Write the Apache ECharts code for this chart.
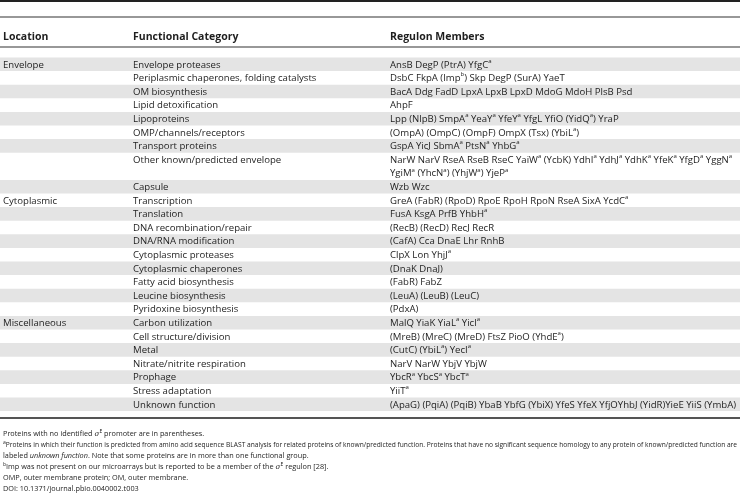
<!DOCTYPE html>
<html><head><meta charset="utf-8">
<script src="https://cdn.jsdelivr.net/npm/echarts@6/dist/echarts.min.js"></script>
<style>html,body{margin:0;padding:0;background:#fff}#c{width:740px;height:495px}</style>
</head><body><div id="c"></div>
<script>
// ---- data ----
const headers = ['Location', 'Functional Category', 'Regulon Members'];
const locations = ['Envelope','','','','','','','','','Cytoplasmic','','','','','','','','','Miscellaneous','','','','','',''];
const categories = [
  'Envelope proteases','Periplasmic chaperones, folding catalysts','OM biosynthesis','Lipid detoxification',
  'Lipoproteins','OMP/channels/receptors','Transport proteins','Other known/predicted envelope','Capsule',
  'Transcription','Translation','DNA recombination/repair','DNA/RNA modification','Cytoplasmic proteases',
  'Cytoplasmic chaperones','Fatty acid biosynthesis','Leucine biosynthesis','Pyridoxine biosynthesis',
  'Carbon utilization','Cell structure/division','Metal','Nitrate/nitrite respiration','Prophage',
  'Stress adaptation','Unknown function'
];
const members = [
  'AnsB DegP (PtrA) YfgC^a',
  'DsbC FkpA (Imp^b) Skp DegP (SurA) YaeT',
  'BacA Ddg FadD LpxA LpxB LpxD MdoG MdoH PlsB Psd',
  'AhpF',
  'Lpp (NlpB) SmpA^a YeaY^a YfeY^a YfgL YfiO (YidQ^a) YraP',
  '(OmpA) (OmpC) (OmpF) OmpX (Tsx) (YbiL^a)',
  'GspA YicJ SbmA^a PtsN^a YhbG^a',
  'NarW NarV RseA RseB RseC YaiW^a (YcbK) YdhI^a YdhJ^a YdhK^a YfeK^a YfgD^a YggN^a\nYgiM^a (YhcN^a) (YhjW^a) YjeP^a',
  'Wzb Wzc',
  'GreA (FabR) (RpoD) RpoE RpoH RpoN RseA SixA YcdC^a',
  'FusA KsgA PrfB YhbH^a',
  '(RecB) (RecD) RecJ RecR',
  '(CafA) Cca DnaE Lhr RnhB',
  'ClpX Lon YhjJ^a',
  '(DnaK DnaJ)',
  '(FabR) FabZ',
  '(LeuA) (LeuB) (LeuC)',
  '(PdxA)',
  'MalQ YiaK YiaL^a YicI^a',
  '(MreB) (MreC) (MreD) FtsZ PioO (YhdE^a)',
  '(CutC) (YbiL^a) YecI^a',
  'NarV NarW YbjV YbjW',
  'YbcR^a YbcS^a YbcT^a',
  'YiiT^a',
  '(ApaG) (PqiA) (PqiB) YbaB YbfG (YbiX) YfeS YfeX YfjOYhbJ (YidR)YieE YiiS (YmbA)'
];
const footnotes = [
  'Proteins with no identified {g|σ}{s|E} promoter are in parentheses.',
  '{s|a}Proteins in which their function is predicted from amino acid sequence BLAST analysis for related proteins of known/predicted function. Proteins that have no significant sequence homology to any protein of known/predicted function are',
  'labeled {i|unknown function}. Note that some proteins are in more than one functional group.',
  '{s|b}Imp was not present on our microarrays but is reported to be a member of the {g|σ}{s|E} regulon [28].',
  'OMP, outer membrane protein; OM, outer membrane.',
  'DOI: 10.1371/journal.pbio.0040002.t003'
];

// ---- layout ----
const W = 740, LINE = 13.6, TOP = 57.5;
const colX = [3, 133, 390];
const FONT = '"Open Sans", sans-serif';
const TXT = '#1e1e1e';
const footSizes = [7.3, 6.65, 7.3, 7.3, 7.3, 7.3];
const rowLines = members.map(m => m.split('\n').length);
const rowStart = [];
rowLines.reduce((acc, n, i) => { rowStart[i] = acc; return acc + n; }, 0);
const totalLines = rowLines.reduce((a, b) => a + b, 0);

const toRich = s => s.replace(/\^(\w)/g, '{s|$1}');
const richStyles = { s: { fontSize: 6, verticalAlign: 'top', lineHeight: 10, fontFamily: FONT, fill: TXT } };

const chart = echarts.init(document.getElementById('c'), null, { renderer: 'canvas' });
const footY0 = 434, footStep = 10.9;
const graphics = [
  { type: 'rect', shape: { x: 0, y: 0, width: W, height: 2 }, style: { fill: '#222' } },
  { type: 'rect', shape: { x: 0, y: 16.5, width: W, height: 1 }, style: { fill: '#333' } },
  { type: 'rect', shape: { x: 0, y: 46.5, width: W, height: 1 }, style: { fill: '#333' } },
  { type: 'rect', shape: { x: 0, y: 417, width: W, height: 2 }, style: { fill: '#555' } }
];
headers.forEach((h, i) => graphics.push({
  type: 'text', x: colX[i], y: 37,
  style: { text: h, font: 'bold 10.5px ' + FONT, fill: TXT, verticalAlign: 'middle' }
}));
footnotes.forEach((f, i) => {
  const fs = footSizes[i];
  graphics.push({
    type: 'text', x: 3, y: footY0 + i * footStep,
    style: {
      text: f, fontSize: fs, fontFamily: FONT, fill: TXT, verticalAlign: 'middle', lineHeight: 10,
      rich: {
        s: { fontSize: 5, verticalAlign: 'top', lineHeight: 8, fontFamily: FONT, fill: TXT },
        g: { fontSize: fs, fontFamily: 'DejaVu Serif, serif', fontStyle: 'italic', fill: TXT, lineHeight: 10 },
        i: { fontSize: fs, fontFamily: FONT, fontStyle: 'italic', fill: TXT, lineHeight: 10 }
      }
    }
  });
});

chart.setOption({
  animation: false,
  grid: { left: 0, right: 0, top: TOP, height: totalLines * LINE, containLabel: false },
  xAxis: { type: 'value', min: 0, max: W, show: false },
  yAxis: { type: 'value', min: 0, max: totalLines, inverse: true, show: false },
  graphic: graphics,
  series: [{
    type: 'custom',
    coordinateSystem: 'cartesian2d',
    data: categories.map((c, i) => [i]),
    renderItem: function (params, api) {
      const i = api.value(0);
      const p0 = api.coord([0, rowStart[i]]);
      const p1 = api.coord([W, rowStart[i] + rowLines[i]]);
      const children = [];
      if (i % 2 === 0) {
        children.push({ type: 'rect', shape: { x: p0[0], y: p0[1], width: p1[0] - p0[0], height: p1[1] - p0[1] }, style: { fill: '#e4e4e4' } });
      }
      const cells = [locations[i], categories[i], members[i]];
      cells.forEach((t, k) => {
        if (!t) return;
        children.push({
          type: 'text', x: api.coord([colX[k], 0])[0], y: p0[1] + 0.5,
          style: { text: toRich(t), fontSize: 9.6, fontFamily: FONT, fill: TXT, verticalAlign: 'top', lineHeight: LINE, rich: richStyles }
        });
      });
      return { type: 'group', children: children };
    }
  }]
});
</script></body></html>
